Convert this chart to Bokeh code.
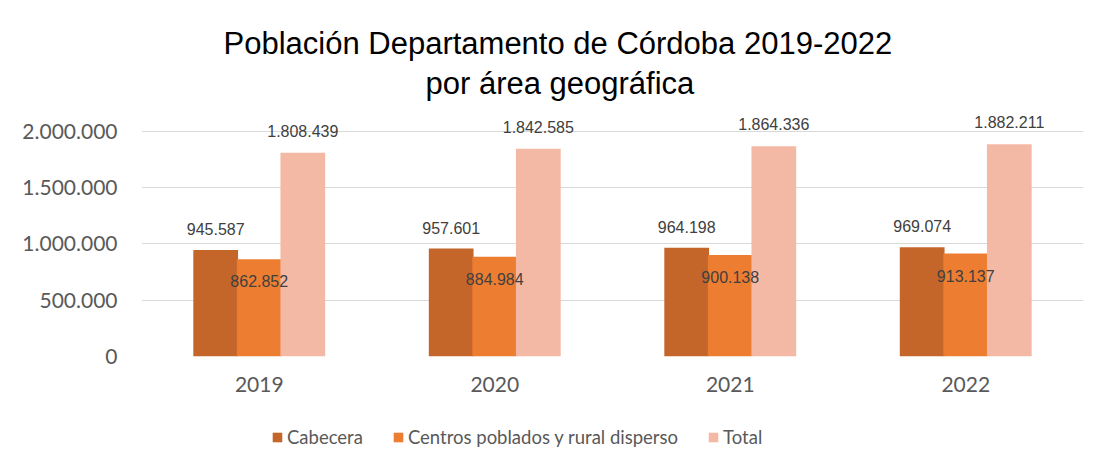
from bokeh.plotting import figure
from bokeh.layouts import column
from bokeh.models import ColumnDataSource, Range1d, FixedTicker, Legend, LegendItem, Title
from bokeh.transform import dodge
from bokeh.core.properties import value
from bokeh.embed import file_html
from bokeh.resources import INLINE

# ---- data ----
years = ["2019", "2020", "2021", "2022"]
cabecera = [945587, 957601, 964198, 969074]
centros = [862852, 884984, 900138, 913137]
total = [1808439, 1842585, 1864336, 1882211]
series_names = ["Cabecera", "Centros poblados y rural disperso", "Total"]
y_ticks = [0, 500000, 1000000, 1500000, 2000000]
title_lines = ["Población Departamento de Córdoba 2019-2022", "por área geográfica"]


def fmt(v):
    return f"{v:,}".replace(",", ".")


src = ColumnDataSource(dict(
    year=years,
    cab=cabecera, cen=centros, tot=total,
    cab_l=[fmt(v) for v in cabecera],
    cen_l=[fmt(v) for v in centros],
    tot_l=[fmt(v) for v in total],
))

COL_CAB = "#C4662A"
COL_CEN = "#ED7D31"
COL_TOT = "#F4B9A5"
colors = [COL_CAB, COL_CEN, COL_TOT]
GRID = "#D9D9D9"
AXTXT = "#595959"
LBL = "#404040"
AXFONT = "Lato"

p = figure(x_range=years, y_range=Range1d(0, 2200000),
           width=1102, height=402, frame_width=942, frame_height=248,
           output_backend="svg", toolbar_location=None,
           min_border_left=141, min_border_right=19, min_border_top=108, min_border_bottom=46)

# titles (line 1 is the figure title; line 2 added later sits nearer the plot)
p.title.text = title_lines[0]
p.title.align = "left"
p.title.text_font = "Liberation Sans"
p.title.text_font_size = "31px"
p.title.text_font_style = "normal"
p.title.text_color = "#000000"
p.title.offset = 82
p.title.standoff = -11
t2 = Title(text=title_lines[1], align="left", text_font="Liberation Sans",
           text_font_size="31px", text_font_style="normal", text_color="#000000",
           offset=284, standoff=16)
p.add_layout(t2, "above")

w = 0.19
r_cab = p.vbar(x=dodge("year", -0.185, range=p.x_range), top="cab", width=w, source=src,
               fill_color=COL_CAB, line_color=None)
r_cen = p.vbar(x=dodge("year", 0.0, range=p.x_range), top="cen", width=w, source=src,
               fill_color=COL_CEN, line_color=None)
r_tot = p.vbar(x=dodge("year", 0.185, range=p.x_range), top="tot", width=w, source=src,
               fill_color=COL_TOT, line_color=None)

lbl_kw = dict(source=src, text_align="center", text_baseline="middle",
              text_font=value("Liberation Sans"), text_font_size="16px", text_color=LBL)
p.text(x=dodge("year", -0.185, range=p.x_range), y="cab", text="cab_l", y_offset=-21, **lbl_kw)
p.text(x=dodge("year", 0.0, range=p.x_range), y="cen", text="cen_l", y_offset=22, **lbl_kw)
p.text(x=dodge("year", 0.185, range=p.x_range), y="tot", text="tot_l", y_offset=-22, **lbl_kw)

# axes
p.yaxis.ticker = FixedTicker(ticks=y_ticks)
p.yaxis.major_label_overrides = {v: fmt(v) for v in y_ticks}
for ax in (p.xaxis[0], p.yaxis[0]):
    ax.axis_line_color = None
    ax.major_tick_line_color = None
    ax.minor_tick_line_color = None
    ax.major_label_text_font = AXFONT
    ax.major_label_text_font_size = "21px"
    ax.major_label_text_color = AXTXT
p.yaxis.major_label_standoff = 18
p.xaxis.major_label_standoff = 14

p.xgrid.grid_line_color = None
p.ygrid.grid_line_color = GRID
p.ygrid.grid_line_width = 1
p.ygrid.ticker = FixedTicker(ticks=y_ticks)
p.outline_line_color = None
p.x_range.range_padding = 0.0

# ---- legend strip (separate figure under the chart; its frame aligns with the chart's) ----
lg = figure(width=1102, height=68, x_range=Range1d(0, 1), y_range=Range1d(0, 1),
            output_backend="svg", toolbar_location=None, x_axis_type=None, y_axis_type=None,
            min_border=0)
lg.outline_line_color = None
lg.xgrid.visible = False
lg.ygrid.visible = False
# zero-height placeholder bars, only so the legend has swatches to draw
swatch_src = ColumnDataSource(dict(x=[0.5], top=[0]))
sw = [lg.vbar(x="x", top="top", width=0.0, source=swatch_src, fill_color=c, line_color=None)
      for c in colors]
legend = Legend(items=[LegendItem(label=n, renderers=[r]) for n, r in zip(series_names, sw)],
                orientation="horizontal", location=(130, 22),
                glyph_width=12, glyph_height=12, label_standoff=4, spacing=29,
                label_text_font=AXFONT, label_text_font_size="18.5px", label_text_color=AXTXT,
                border_line_color=None, background_fill_alpha=0, padding=0, margin=0)
lg.add_layout(legend, "center")

layout = column(p, lg, spacing=0)
open("out.html", "w").write(file_html(layout, INLINE))
